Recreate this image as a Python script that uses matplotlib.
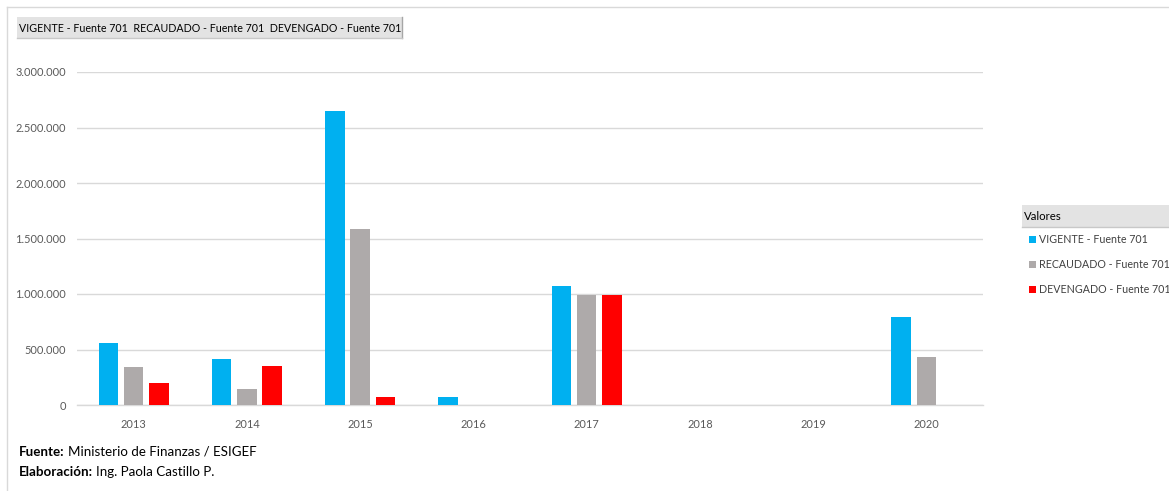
import matplotlib
matplotlib.use("Agg")
import matplotlib.pyplot as plt
from matplotlib.patches import Rectangle
from matplotlib.lines import Line2D
import numpy as np

years = ["2013", "2014", "2015", "2016", "2017", "2018", "2019", "2020"]
vigente = [556000, 417000, 2650000, 75000, 1075000, 0, 0, 790000]
recaudado = [345000, 144000, 1586000, 0, 995000, 0, 0, 432000]
devengado = [201000, 351000, 75000, 0, 995000, 0, 0, 0]
series_names = ["VIGENTE - Fuente 701", "RECAUDADO - Fuente 701", "DEVENGADO - Fuente 701"]
colors = ["#00b0f0", "#aeaaaa", "#ff0000"]
yticks = [0, 500000, 1000000, 1500000, 2000000, 2500000, 3000000]

FONT = ["Lato", "DejaVu Sans"]
plt.rcParams["font.family"] = FONT

W, H = 1169, 491
fig = plt.figure(figsize=(W / 100, H / 100), dpi=100)
ax = fig.add_axes([77 / W, 1 - 405 / H, (983 - 77) / W, (405 - 72) / H])

x = np.arange(len(years))
bw = 0.172
off = 0.222
handles = []
for i, (vals, c) in enumerate(zip([vigente, recaudado, devengado], colors)):
    b = ax.bar(x + (i - 1) * off, vals, width=bw, color=c, zorder=3, label=series_names[i])
    handles.append(b)

ax.set_xlim(-0.5, 7.5)
ax.set_ylim(0, 3000000)
ax.set_yticks(yticks)
ax.set_yticklabels([f"{v:,}".replace(",", ".") for v in yticks])
ax.set_xticks(x)
ax.set_xticklabels(years)
ax.yaxis.grid(True, color="#d9d9d9", linewidth=1.0, zorder=0)
for s in ["top", "right", "left"]:
    ax.spines[s].set_visible(False)
ax.spines["bottom"].set_color("#d9d9d9")
ax.spines["bottom"].set_linewidth(1.0)
ax.tick_params(axis="both", length=0, labelsize=7.9, colors="#595959")
ax.tick_params(axis="y", pad=8)
ax.tick_params(axis="x", pad=10)

# figure border lines
fig.add_artist(Line2D([7 / W, 7 / W], [0, 1 - 7 / H], color="#d9d9d9", lw=1))
fig.add_artist(Line2D([7 / W, 1], [1 - 7 / H, 1 - 7 / H], color="#d9d9d9", lw=1))

# field buttons at top-left
fig.add_artist(Rectangle((17 / W, 1 - 38 / H), (402 - 17) / W, 21 / H,
                         transform=fig.transFigure, facecolor="#e3e3e3",
                         edgecolor="none"))
fig.add_artist(Line2D([402 / W, 402 / W], [1 - 38 / H, 1 - 17 / H], color="#a6a6a6", lw=1))
fig.add_artist(Line2D([17 / W, 402 / W], [1 - 38 / H, 1 - 38 / H], color="#c8c8c8", lw=1))
fig.text(19 / W, 1 - 28 / H, "  ".join(series_names), fontsize=7.65,
         color="#000000", va="center", ha="left")

# legend header
fig.add_artist(Rectangle((1022 / W, 1 - 227 / H), (W - 1022) / W, 22 / H,
                         transform=fig.transFigure, facecolor="#e3e3e3",
                         edgecolor="none"))
fig.add_artist(Line2D([1022 / W, 1], [1 - 227 / H, 1 - 227 / H], color="#c8c8c8", lw=1))
fig.text(1024 / W, 1 - 216 / H, "Valores", fontsize=8.2, color="#000000",
         va="center", ha="left")

leg = fig.legend(handles=handles, labels=series_names, loc="upper left",
                 bbox_to_anchor=(1026 / W, 1 - 231 / H), frameon=False,
                 fontsize=7.7, handlelength=0.65, handleheight=0.65,
                 handletextpad=0.3, labelspacing=1.3, borderaxespad=0,
                 borderpad=0.3)
for t in leg.get_texts():
    t.set_color("#404040")

# footer
fig.canvas.draw()
r = fig.canvas.get_renderer()
FS = 9.6
t1 = fig.text(19 / W, 1 - 452 / H, "Fuente:", fontsize=FS, va="center", ha="left",
              weight="bold", color="black")
bb = t1.get_window_extent(r)
fig.text((bb.x1 + 3) / W, 1 - 452 / H, "Ministerio de Finanzas / ESIGEF", fontsize=FS,
         va="center", ha="left", color="black")
t2 = fig.text(19 / W, 1 - 472 / H, "Elaboración:", fontsize=FS, va="center", ha="left",
              weight="bold", color="black")
bb2 = t2.get_window_extent(r)
fig.text((bb2.x1 + 3) / W, 1 - 472 / H, "Ing. Paola Castillo P.", fontsize=FS,
         va="center", ha="left", color="black")

fig.savefig("out.png", dpi=100)
